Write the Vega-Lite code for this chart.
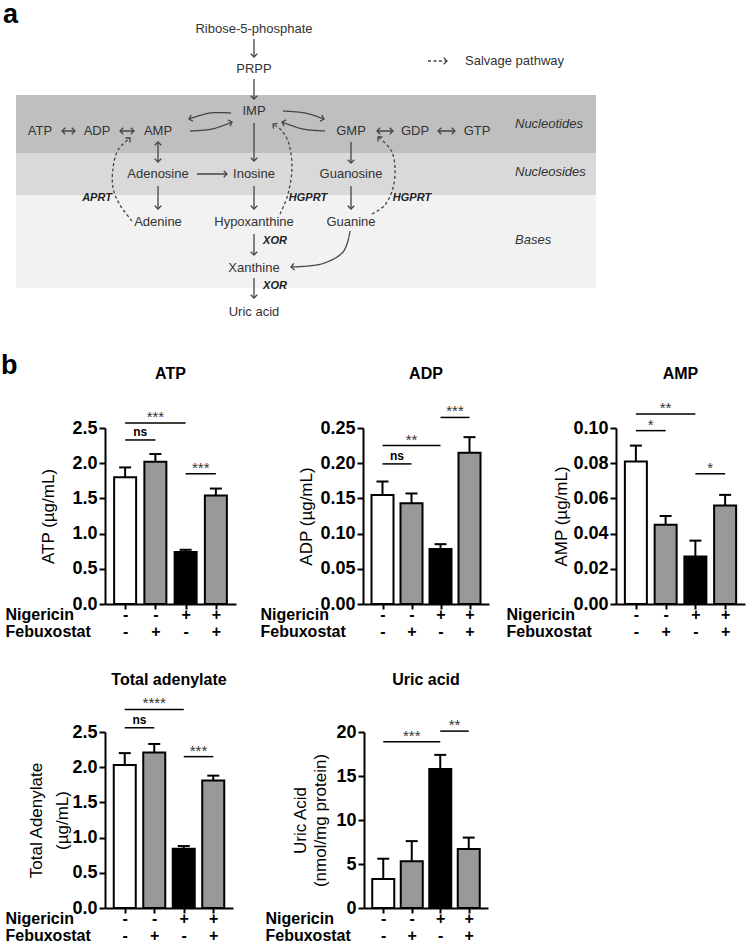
{
  "$schema": "https://vega.github.io/schema/vega-lite/v6.json",
  "background": "white",
  "padding": 0,
  "config": {
    "view": {"stroke": null},
    "font": "Liberation Sans",
    "axis": {"grid": false, "domainColor": "black", "domainWidth": 2, "tickColor": "black", "tickWidth": 2, "labelColor": "black", "labelFont": "Liberation Sans", "labelFontWeight": "bold", "titleFont": "Liberation Sans", "titleColor": "black", "labelOverlap": false},
    "axisY": {"labelFontSize": 18, "tickSize": 6, "labelPadding": 2, "titleFontSize": 17, "titleFontWeight": "normal", "titleAngle": -90, "titleBaseline": "middle", "titleAlign": "center", "labelOverlap": false},
    "axisX": {"tickSize": 5, "labelFontSize": 16, "labelPadding": 10, "labelBaseline": "alphabetic", "labelLineHeight": 17, "labelOverlap": false, "labelFlush": false, "labelAngle": 0, "titleFontSize": 16, "titleFontWeight": "bold", "titleAngle": 0, "titleAlign": "left", "titleAnchor": "start", "titleBaseline": "alphabetic", "titleLineHeight": 17}
  },
  "datasets": {
    "frame": [{"x": 0, "x2": 747, "y": 0, "y2": 299}],
    "zones": [
      {"x": 16, "x2": 596, "y": 94, "y2": 152, "zone": "Nucleotides"},
      {"x": 16, "x2": 596, "y": 152, "y2": 194, "zone": "Nucleosides"},
      {"x": 16, "x2": 596, "y": 194, "y2": 287, "zone": "Bases"}
    ],
    "shafts": [
      {"x": 254, "y": 38, "x2": 254, "y2": 56, "path": "main"},
      {"x": 254, "y": 78, "x2": 254, "y2": 98, "path": "main"},
      {"x": 254, "y": 122, "x2": 254, "y2": 160, "path": "main"},
      {"x": 254, "y": 185, "x2": 254, "y2": 208, "path": "main"},
      {"x": 254, "y": 233, "x2": 254, "y2": 254, "path": "main"},
      {"x": 254, "y": 277, "x2": 254, "y2": 297, "path": "main"},
      {"x": 158, "y": 141, "x2": 158, "y2": 161, "path": "main"},
      {"x": 158, "y": 185, "x2": 158, "y2": 208, "path": "main"},
      {"x": 197, "y": 173, "x2": 227, "y2": 173, "path": "main"},
      {"x": 351, "y": 141, "x2": 351, "y2": 162, "path": "main"},
      {"x": 351, "y": 185, "x2": 351, "y2": 208, "path": "main"},
      {"x": 62, "y": 130, "x2": 75, "y2": 130, "path": "main"},
      {"x": 120, "y": 130, "x2": 134, "y2": 130, "path": "main"},
      {"x": 377, "y": 130, "x2": 393, "y2": 130, "path": "main"},
      {"x": 438, "y": 130, "x2": 455, "y2": 130, "path": "main"},
      {"x": 428, "y": 60, "x2": 447, "y2": 60, "path": "salvage"}
    ],
    "curves": [
      {"id": "c1", "o": 1, "x": 231, "y": 112, "path": "main"},
      {"id": "c1", "o": 2, "x": 210, "y": 112, "path": "main"},
      {"id": "c1", "o": 3, "x": 189, "y": 118, "path": "main"},
      {"id": "c2", "o": 1, "x": 190, "y": 130, "path": "main"},
      {"id": "c2", "o": 2, "x": 212, "y": 128, "path": "main"},
      {"id": "c2", "o": 3, "x": 232, "y": 121, "path": "main"},
      {"id": "c3", "o": 1, "x": 283, "y": 110, "path": "main"},
      {"id": "c3", "o": 2, "x": 305, "y": 112, "path": "main"},
      {"id": "c3", "o": 3, "x": 324, "y": 118, "path": "main"},
      {"id": "c4", "o": 1, "x": 325, "y": 130, "path": "main"},
      {"id": "c4", "o": 2, "x": 303, "y": 128, "path": "main"},
      {"id": "c4", "o": 3, "x": 282, "y": 121, "path": "main"},
      {"id": "c5", "o": 1, "x": 350, "y": 230, "path": "main"},
      {"id": "c5", "o": 2, "x": 343, "y": 251, "path": "main"},
      {"id": "c5", "o": 3, "x": 321, "y": 263, "path": "main"},
      {"id": "c5", "o": 4, "x": 291, "y": 266, "path": "main"},
      {"id": "d1", "o": 1, "x": 132, "y": 220, "path": "salvage"},
      {"id": "d1", "o": 2, "x": 120, "y": 204, "path": "salvage"},
      {"id": "d1", "o": 3, "x": 113, "y": 187, "path": "salvage"},
      {"id": "d1", "o": 4, "x": 113, "y": 167, "path": "salvage"},
      {"id": "d1", "o": 5, "x": 118, "y": 149, "path": "salvage"},
      {"id": "d1", "o": 6, "x": 130, "y": 137, "path": "salvage"},
      {"id": "d2", "o": 1, "x": 280, "y": 213, "path": "salvage"},
      {"id": "d2", "o": 2, "x": 288, "y": 193, "path": "salvage"},
      {"id": "d2", "o": 3, "x": 292, "y": 167, "path": "salvage"},
      {"id": "d2", "o": 4, "x": 289, "y": 143, "path": "salvage"},
      {"id": "d2", "o": 5, "x": 282, "y": 130, "path": "salvage"},
      {"id": "d2", "o": 6, "x": 273, "y": 123, "path": "salvage"},
      {"id": "d3", "o": 1, "x": 372, "y": 213, "path": "salvage"},
      {"id": "d3", "o": 2, "x": 385, "y": 204, "path": "salvage"},
      {"id": "d3", "o": 3, "x": 393, "y": 187, "path": "salvage"},
      {"id": "d3", "o": 4, "x": 395, "y": 167, "path": "salvage"},
      {"id": "d3", "o": 5, "x": 391, "y": 149, "path": "salvage"},
      {"id": "d3", "o": 6, "x": 378, "y": 136, "path": "salvage"}
    ],
    "heads": [
      {"x": 254, "y": 56, "angle": 90}, {"x": 254, "y": 98, "angle": 90}, {"x": 254, "y": 160, "angle": 90},
      {"x": 254, "y": 208, "angle": 90}, {"x": 254, "y": 254, "angle": 90}, {"x": 254, "y": 297, "angle": 90},
      {"x": 158, "y": 141, "angle": 270}, {"x": 158, "y": 161, "angle": 90}, {"x": 158, "y": 208, "angle": 90},
      {"x": 227, "y": 173, "angle": 0}, {"x": 351, "y": 162, "angle": 90}, {"x": 351, "y": 208, "angle": 90},
      {"x": 62, "y": 130, "angle": 180}, {"x": 75, "y": 130, "angle": 0},
      {"x": 120, "y": 130, "angle": 180}, {"x": 134, "y": 130, "angle": 0},
      {"x": 377, "y": 130, "angle": 180}, {"x": 393, "y": 130, "angle": 0},
      {"x": 438, "y": 130, "angle": 180}, {"x": 455, "y": 130, "angle": 0},
      {"x": 447, "y": 60, "angle": 0},
      {"x": 189, "y": 118, "angle": 164}, {"x": 232, "y": 121, "angle": 341},
      {"x": 324, "y": 118, "angle": 17}, {"x": 282, "y": 121, "angle": 198},
      {"x": 291, "y": 266, "angle": 174},
      {"x": 130, "y": 137, "angle": 315}, {"x": 273, "y": 123, "angle": 218}, {"x": 378, "y": 136, "angle": 225}
    ],
    "nodes": [
      {"text": "Ribose-5-phosphate", "x": 254, "y": 28},
      {"text": "PRPP", "x": 254, "y": 68},
      {"text": "IMP", "x": 254, "y": 110},
      {"text": "ATP", "x": 40, "y": 130},
      {"text": "ADP", "x": 97, "y": 130},
      {"text": "AMP", "x": 158, "y": 130},
      {"text": "GMP", "x": 351, "y": 130},
      {"text": "GDP", "x": 415, "y": 130},
      {"text": "GTP", "x": 477, "y": 130},
      {"text": "Adenosine", "x": 158, "y": 173},
      {"text": "Inosine", "x": 254, "y": 173},
      {"text": "Guanosine", "x": 351, "y": 173},
      {"text": "Adenine", "x": 158, "y": 221},
      {"text": "Hypoxanthine", "x": 254, "y": 221},
      {"text": "Guanine", "x": 351, "y": 221},
      {"text": "Xanthine", "x": 254, "y": 267},
      {"text": "Uric acid", "x": 254, "y": 311}
    ],
    "zonelabels": [
      {"text": "Nucleotides", "x": 515, "y": 123},
      {"text": "Nucleosides", "x": 515, "y": 171},
      {"text": "Bases", "x": 515, "y": 239}
    ],
    "enzymes": [
      {"text": "APRT", "x": 97, "y": 197},
      {"text": "HGPRT", "x": 308, "y": 197},
      {"text": "HGPRT", "x": 412, "y": 197},
      {"text": "XOR", "x": 275, "y": 240},
      {"text": "XOR", "x": 275, "y": 285}
    ],
    "legendtext": [{"text": "Salvage pathway", "x": 465, "y": 60}],
    "letters": [{"text": "a", "x": 3, "y": 21.5}, {"text": "b", "x": 1, "y": 373}],
    "atp": [
      {"grp": 1, "cond": "Control", "mean": 1.80, "upper": 1.94},
      {"grp": 2, "cond": "Febuxostat", "mean": 2.02, "upper": 2.13},
      {"grp": 3, "cond": "Nigericin", "mean": 0.74, "upper": 0.77},
      {"grp": 4, "cond": "Nigericin + Febuxostat", "mean": 1.54, "upper": 1.64}
    ],
    "atp_sig": [
      {"x1": 1, "x2": 2, "xm": 1.5, "y": 2.33, "label": "ns"},
      {"x1": 1, "x2": 3, "xm": 2, "y": 2.57, "label": "***"},
      {"x1": 3, "x2": 4, "xm": 3.5, "y": 1.85, "label": "***"}
    ],
    "adp": [
      {"grp": 1, "cond": "Control", "mean": 0.155, "upper": 0.174},
      {"grp": 2, "cond": "Febuxostat", "mean": 0.143, "upper": 0.157},
      {"grp": 3, "cond": "Nigericin", "mean": 0.078, "upper": 0.085},
      {"grp": 4, "cond": "Nigericin + Febuxostat", "mean": 0.215, "upper": 0.237}
    ],
    "adp_sig": [
      {"x1": 1, "x2": 2, "xm": 1.5, "y": 0.199, "label": "ns"},
      {"x1": 1, "x2": 3, "xm": 2, "y": 0.225, "label": "**"},
      {"x1": 3, "x2": 4, "xm": 3.5, "y": 0.265, "label": "***"}
    ],
    "amp": [
      {"grp": 1, "cond": "Control", "mean": 0.081, "upper": 0.090},
      {"grp": 2, "cond": "Febuxostat", "mean": 0.045, "upper": 0.050},
      {"grp": 3, "cond": "Nigericin", "mean": 0.027, "upper": 0.036},
      {"grp": 4, "cond": "Nigericin + Febuxostat", "mean": 0.056, "upper": 0.062}
    ],
    "amp_sig": [
      {"x1": 1, "x2": 2, "xm": 1.5, "y": 0.0985, "label": "*"},
      {"x1": 1, "x2": 3, "xm": 2, "y": 0.108, "label": "**"},
      {"x1": 3, "x2": 4, "xm": 3.5, "y": 0.074, "label": "*"}
    ],
    "ta": [
      {"grp": 1, "cond": "Control", "mean": 2.03, "upper": 2.20},
      {"grp": 2, "cond": "Febuxostat", "mean": 2.21, "upper": 2.33},
      {"grp": 3, "cond": "Nigericin", "mean": 0.84, "upper": 0.88},
      {"grp": 4, "cond": "Nigericin + Febuxostat", "mean": 1.81, "upper": 1.88}
    ],
    "ta_sig": [
      {"x1": 1, "x2": 2, "xm": 1.5, "y": 2.56, "label": "ns"},
      {"x1": 1, "x2": 3, "xm": 2, "y": 2.82, "label": "****"},
      {"x1": 3, "x2": 4, "xm": 3.5, "y": 2.15, "label": "***"}
    ],
    "uric": [
      {"grp": 1, "cond": "Control", "mean": 3.3, "upper": 5.6},
      {"grp": 2, "cond": "Febuxostat", "mean": 5.3, "upper": 7.6},
      {"grp": 3, "cond": "Nigericin", "mean": 15.8, "upper": 17.4},
      {"grp": 4, "cond": "Nigericin + Febuxostat", "mean": 6.7, "upper": 8.0}
    ],
    "uric_sig": [
      {"x1": 1, "x2": 3, "xm": 2, "y": 18.9, "label": "***"},
      {"x1": 3, "x2": 4, "xm": 3.5, "y": 20.1, "label": "**"}
    ]
  },
  "bounds": "flush",
  "spacing": 304,
  "resolve": {"scale": {"fill": "independent", "strokeDash": "independent"}},
  "vconcat": [
    {
      "width": 642,
      "height": 123,
      "encoding": {
        "x": {"field": "x", "type": "quantitative", "scale": {"domain": [105, 747], "nice": false, "zero": false}, "axis": null},
        "y": {"field": "y", "type": "quantitative", "scale": {"domain": [0, 123], "nice": false, "zero": false, "reverse": true}, "axis": null}
      },
      "layer": [
        {"data": {"name": "frame"}, "mark": {"type": "rect", "fill": "white"}, "encoding": {"x2": {"field": "x2"}, "y2": {"field": "y2"}}},
        {"data": {"name": "zones"}, "mark": {"type": "rect"}, "encoding": {"x2": {"field": "x2"}, "y2": {"field": "y2"}, "fill": {"field": "zone", "type": "nominal", "scale": {"domain": ["Nucleotides", "Nucleosides", "Bases"], "range": ["#bfbfbf", "#d9d9d9", "#f2f2f2"]}, "legend": null}}},
        {"data": {"name": "shafts"}, "mark": {"type": "rule", "color": "#444444", "strokeWidth": 1.3}, "encoding": {"x2": {"field": "x2"}, "y2": {"field": "y2"}, "strokeDash": {"field": "path", "type": "nominal", "scale": {"domain": ["main", "salvage"], "range": [[1, 0], [3, 2.5]]}, "legend": null}}},
        {"data": {"name": "curves"}, "mark": {"type": "line", "color": "#444444", "strokeWidth": 1.3, "interpolate": "cardinal"}, "encoding": {"detail": {"field": "id"}, "order": {"field": "o", "type": "quantitative"}, "strokeDash": {"field": "path", "type": "nominal", "scale": {"domain": ["main", "salvage"], "range": [[1, 0], [3, 2.5]]}, "legend": null}}},
        {"data": {"name": "heads"}, "mark": {"type": "point", "shape": "M-1,-1L0,0L-1,1", "filled": false, "size": 42, "strokeWidth": 1.3, "color": "#444444", "opacity": 1}, "encoding": {"angle": {"field": "angle", "type": "quantitative", "scale": null}}},
        {"data": {"name": "nodes"}, "mark": {"type": "text", "fontSize": 13, "color": "#333333", "baseline": "middle", "align": "center", "font": "Liberation Sans"}, "encoding": {"text": {"field": "text"}}},
        {"data": {"name": "zonelabels"}, "mark": {"type": "text", "fontSize": 13, "fontStyle": "italic", "color": "#333333", "baseline": "middle", "align": "left", "font": "Liberation Sans"}, "encoding": {"text": {"field": "text"}}},
        {"data": {"name": "legendtext"}, "mark": {"type": "text", "fontSize": 13, "color": "#333333", "baseline": "middle", "align": "left", "font": "Liberation Sans"}, "encoding": {"text": {"field": "text"}}},
        {"data": {"name": "enzymes"}, "mark": {"type": "text", "fontSize": 11, "fontStyle": "italic", "fontWeight": "bold", "color": "#222222", "baseline": "middle", "align": "center", "font": "Liberation Sans"}, "encoding": {"text": {"field": "text"}}},
        {"data": {"name": "letters"}, "mark": {"type": "text", "fontSize": 27, "fontWeight": "bold", "color": "black", "baseline": "alphabetic", "align": "left", "font": "Liberation Sans"}, "encoding": {"text": {"field": "text"}}}
      ]
    },
    {
      "bounds": "flush",
      "spacing": 127,
      "hconcat": [
        {
          "width": 131, "height": 176,
          "title": {"text": "ATP", "offset": 15, "baseline": "alphabetic", "fontSize": 16, "fontWeight": "bold", "color": "black", "anchor": "middle", "frame": "group", "font": "Liberation Sans"},
          "layer": [
            {"data": {"name": "atp"}, "mark": {"type": "bar", "width": 22, "stroke": "black", "strokeWidth": 2},
             "encoding": {
               "x": {"field": "grp", "type": "quantitative", "scale": {"domain": [0.5, 4.5], "nice": false, "zero": false},
                     "axis": {"values": [1, 2, 3, 4], "tickCount": 10, "labelExpr": "datum.value == 1 ? ['-','-'] : datum.value == 2 ? ['-','+'] : datum.value == 3 ? ['+','-'] : ['+','+']", "title": ["Nigericin", "Febuxostat"], "titleX": -100, "titleY": 15, "labelOverlap": false}},
               "y": {"field": "mean", "type": "quantitative", "scale": {"domain": [0, 2.5], "nice": false},
                     "axis": {"values": [0, 0.5, 1, 1.5, 2, 2.5], "tickCount": 12, "format": ".1f", "title": "ATP (µg/mL)", "titleX": -57, "titleY": 88, "labelOverlap": false}},
               "fill": {"field": "cond", "type": "nominal", "scale": {"domain": ["Control", "Febuxostat", "Nigericin", "Nigericin + Febuxostat"], "range": ["white", "#999999", "black", "#999999"]}, "legend": null}
             }},
            {"data": {"name": "atp"}, "mark": {"type": "rule", "color": "black", "strokeWidth": 2}, "encoding": {"x": {"field": "grp", "type": "quantitative"}, "y": {"field": "mean", "type": "quantitative"}, "y2": {"field": "upper"}}},
            {"data": {"name": "atp"}, "mark": {"type": "tick", "orient": "horizontal", "size": 12, "thickness": 2, "color": "black", "opacity": 1}, "encoding": {"x": {"field": "grp", "type": "quantitative"}, "y": {"field": "upper", "type": "quantitative"}}},
            {"data": {"name": "atp_sig"}, "mark": {"type": "rule", "color": "black", "strokeWidth": 1.5}, "encoding": {"x": {"field": "x1", "type": "quantitative"}, "x2": {"field": "x2"}, "y": {"field": "y", "type": "quantitative"}}},
            {"data": {"name": "atp_sig"}, "transform": [{"filter": "datum.label == 'ns'"}], "mark": {"type": "text", "fontSize": 12, "fontWeight": "bold", "baseline": "alphabetic", "dy": -4, "color": "black"}, "encoding": {"x": {"field": "xm", "type": "quantitative"}, "y": {"field": "y", "type": "quantitative"}, "text": {"field": "label"}}},
            {"data": {"name": "atp_sig"}, "transform": [{"filter": "datum.label != 'ns'"}], "mark": {"type": "text", "fontSize": 15, "baseline": "alphabetic", "dy": -1, "color": "#333333"}, "encoding": {"x": {"field": "xm", "type": "quantitative"}, "y": {"field": "y", "type": "quantitative"}, "text": {"field": "label"}}}
          ]
        },
        {
          "width": 126, "height": 176,
          "title": {"text": "ADP", "offset": 9, "baseline": "alphabetic", "fontSize": 16, "fontWeight": "bold", "color": "black", "anchor": "middle", "frame": "group", "font": "Liberation Sans"},
          "layer": [
            {"data": {"name": "adp"}, "mark": {"type": "bar", "width": 22, "stroke": "black", "strokeWidth": 2},
             "encoding": {
               "x": {"field": "grp", "type": "quantitative", "scale": {"domain": [0.5, 4.5], "nice": false, "zero": false},
                     "axis": {"values": [1, 2, 3, 4], "tickCount": 10, "labelExpr": "datum.value == 1 ? ['-','-'] : datum.value == 2 ? ['-','+'] : datum.value == 3 ? ['+','-'] : ['+','+']", "title": ["Nigericin", "Febuxostat"], "titleX": -103, "titleY": 15, "labelOverlap": false}},
               "y": {"field": "mean", "type": "quantitative", "scale": {"domain": [0, 0.25], "nice": false},
                     "axis": {"values": [0, 0.05, 0.1, 0.15, 0.2, 0.25], "tickCount": 12, "format": ".2f", "title": "ADP (µg/mL)", "titleX": -57, "titleY": 88, "labelOverlap": false}},
               "fill": {"field": "cond", "type": "nominal", "scale": {"domain": ["Control", "Febuxostat", "Nigericin", "Nigericin + Febuxostat"], "range": ["white", "#999999", "black", "#999999"]}, "legend": null}
             }},
            {"data": {"name": "adp"}, "mark": {"type": "rule", "color": "black", "strokeWidth": 2}, "encoding": {"x": {"field": "grp", "type": "quantitative"}, "y": {"field": "mean", "type": "quantitative"}, "y2": {"field": "upper"}}},
            {"data": {"name": "adp"}, "mark": {"type": "tick", "orient": "horizontal", "size": 12, "thickness": 2, "color": "black", "opacity": 1}, "encoding": {"x": {"field": "grp", "type": "quantitative"}, "y": {"field": "upper", "type": "quantitative"}}},
            {"data": {"name": "adp_sig"}, "mark": {"type": "rule", "color": "black", "strokeWidth": 1.5}, "encoding": {"x": {"field": "x1", "type": "quantitative"}, "x2": {"field": "x2"}, "y": {"field": "y", "type": "quantitative"}}},
            {"data": {"name": "adp_sig"}, "transform": [{"filter": "datum.label == 'ns'"}], "mark": {"type": "text", "fontSize": 12, "fontWeight": "bold", "baseline": "alphabetic", "dy": -4, "color": "black"}, "encoding": {"x": {"field": "xm", "type": "quantitative"}, "y": {"field": "y", "type": "quantitative"}, "text": {"field": "label"}}},
            {"data": {"name": "adp_sig"}, "transform": [{"filter": "datum.label != 'ns'"}], "mark": {"type": "text", "fontSize": 15, "baseline": "alphabetic", "dy": -1, "color": "#333333"}, "encoding": {"x": {"field": "xm", "type": "quantitative"}, "y": {"field": "y", "type": "quantitative"}, "text": {"field": "label"}}}
          ]
        },
        {
          "width": 129, "height": 176,
          "title": {"text": "AMP", "offset": 6, "baseline": "alphabetic", "fontSize": 16, "fontWeight": "bold", "color": "black", "anchor": "middle", "frame": "group", "font": "Liberation Sans"},
          "layer": [
            {"data": {"name": "amp"}, "mark": {"type": "bar", "width": 22, "stroke": "black", "strokeWidth": 2},
             "encoding": {
               "x": {"field": "grp", "type": "quantitative", "scale": {"domain": [0.5, 4.5], "nice": false, "zero": false},
                     "axis": {"values": [1, 2, 3, 4], "tickCount": 10, "labelExpr": "datum.value == 1 ? ['-','-'] : datum.value == 2 ? ['-','+'] : datum.value == 3 ? ['+','-'] : ['+','+']", "title": ["Nigericin", "Febuxostat"], "titleX": -110, "titleY": 15, "labelOverlap": false}},
               "y": {"field": "mean", "type": "quantitative", "scale": {"domain": [0, 0.1], "nice": false},
                     "axis": {"values": [0, 0.02, 0.04, 0.06, 0.08, 0.1], "tickCount": 12, "format": ".2f", "title": "AMP (µg/mL)", "titleX": -55, "titleY": 88, "labelOverlap": false}},
               "fill": {"field": "cond", "type": "nominal", "scale": {"domain": ["Control", "Febuxostat", "Nigericin", "Nigericin + Febuxostat"], "range": ["white", "#999999", "black", "#999999"]}, "legend": null}
             }},
            {"data": {"name": "amp"}, "mark": {"type": "rule", "color": "black", "strokeWidth": 2}, "encoding": {"x": {"field": "grp", "type": "quantitative"}, "y": {"field": "mean", "type": "quantitative"}, "y2": {"field": "upper"}}},
            {"data": {"name": "amp"}, "mark": {"type": "tick", "orient": "horizontal", "size": 12, "thickness": 2, "color": "black", "opacity": 1}, "encoding": {"x": {"field": "grp", "type": "quantitative"}, "y": {"field": "upper", "type": "quantitative"}}},
            {"data": {"name": "amp_sig"}, "mark": {"type": "rule", "color": "black", "strokeWidth": 1.5}, "encoding": {"x": {"field": "x1", "type": "quantitative"}, "x2": {"field": "x2"}, "y": {"field": "y", "type": "quantitative"}}},
            {"data": {"name": "amp_sig"}, "mark": {"type": "text", "fontSize": 15, "baseline": "alphabetic", "dy": -1, "color": "#333333"}, "encoding": {"x": {"field": "xm", "type": "quantitative"}, "y": {"field": "y", "type": "quantitative"}, "text": {"field": "label"}}}
          ]
        }
      ]
    },
    {
      "bounds": "flush",
      "spacing": 131,
      "hconcat": [
        {
          "width": 128, "height": 176,
          "title": {"text": "Total adenylate", "offset": -5, "baseline": "alphabetic", "fontSize": 16, "fontWeight": "bold", "color": "black", "anchor": "middle", "frame": "group", "font": "Liberation Sans"},
          "layer": [
            {"data": {"name": "ta"}, "mark": {"type": "bar", "width": 22, "stroke": "black", "strokeWidth": 2},
             "encoding": {
               "x": {"field": "grp", "type": "quantitative", "scale": {"domain": [0.5, 4.5], "nice": false, "zero": false},
                     "axis": {"values": [1, 2, 3, 4], "tickCount": 10, "labelExpr": "datum.value == 1 ? ['-','-'] : datum.value == 2 ? ['-','+'] : datum.value == 3 ? ['+','-'] : ['+','+']", "title": ["Nigericin", "Febuxostat"], "titleX": -100, "titleY": 15, "labelOverlap": false}},
               "y": {"field": "mean", "type": "quantitative", "scale": {"domain": [0, 2.5], "nice": false},
                     "axis": {"values": [0, 0.5, 1, 1.5, 2, 2.5], "tickCount": 12, "format": ".1f", "title": ["Total Adenylate", "(µg/mL)"], "titleLineHeight": 26, "titleX": -69, "titleY": 88, "labelOverlap": false}},
               "fill": {"field": "cond", "type": "nominal", "scale": {"domain": ["Control", "Febuxostat", "Nigericin", "Nigericin + Febuxostat"], "range": ["white", "#999999", "black", "#999999"]}, "legend": null}
             }},
            {"data": {"name": "ta"}, "mark": {"type": "rule", "color": "black", "strokeWidth": 2}, "encoding": {"x": {"field": "grp", "type": "quantitative"}, "y": {"field": "mean", "type": "quantitative"}, "y2": {"field": "upper"}}},
            {"data": {"name": "ta"}, "mark": {"type": "tick", "orient": "horizontal", "size": 12, "thickness": 2, "color": "black", "opacity": 1}, "encoding": {"x": {"field": "grp", "type": "quantitative"}, "y": {"field": "upper", "type": "quantitative"}}},
            {"data": {"name": "ta_sig"}, "mark": {"type": "rule", "color": "black", "strokeWidth": 1.5}, "encoding": {"x": {"field": "x1", "type": "quantitative"}, "x2": {"field": "x2"}, "y": {"field": "y", "type": "quantitative"}}},
            {"data": {"name": "ta_sig"}, "transform": [{"filter": "datum.label == 'ns'"}], "mark": {"type": "text", "fontSize": 12, "fontWeight": "bold", "baseline": "alphabetic", "dy": -4, "color": "black"}, "encoding": {"x": {"field": "xm", "type": "quantitative"}, "y": {"field": "y", "type": "quantitative"}, "text": {"field": "label"}}},
            {"data": {"name": "ta_sig"}, "transform": [{"filter": "datum.label != 'ns'"}], "mark": {"type": "text", "fontSize": 15, "baseline": "alphabetic", "dy": -1, "color": "#333333"}, "encoding": {"x": {"field": "xm", "type": "quantitative"}, "y": {"field": "y", "type": "quantitative"}, "text": {"field": "label"}}}
          ]
        },
        {
          "width": 124, "height": 176,
          "title": {"text": "Uric acid", "offset": 17, "baseline": "alphabetic", "fontSize": 16, "fontWeight": "bold", "color": "black", "anchor": "middle", "frame": "group", "font": "Liberation Sans"},
          "layer": [
            {"data": {"name": "uric"}, "mark": {"type": "bar", "width": 22, "stroke": "black", "strokeWidth": 2},
             "encoding": {
               "x": {"field": "grp", "type": "quantitative", "scale": {"domain": [0.5, 4.5], "nice": false, "zero": false},
                     "axis": {"values": [1, 2, 3, 4], "tickCount": 10, "labelExpr": "datum.value == 1 ? ['-','-'] : datum.value == 2 ? ['-','+'] : datum.value == 3 ? ['+','-'] : ['+','+']", "title": ["Nigericin", "Febuxostat"], "titleX": -99, "titleY": 15, "labelOverlap": false}},
               "y": {"field": "mean", "type": "quantitative", "scale": {"domain": [0, 20], "nice": false},
                     "axis": {"values": [0, 5, 10, 15, 20], "tickCount": 12, "format": "d", "title": ["Uric Acid", "(nmol/mg protein)"], "titleLineHeight": 20, "titleX": -64, "titleY": 88, "labelOverlap": false}},
               "fill": {"field": "cond", "type": "nominal", "scale": {"domain": ["Control", "Febuxostat", "Nigericin", "Nigericin + Febuxostat"], "range": ["white", "#999999", "black", "#999999"]}, "legend": null}
             }},
            {"data": {"name": "uric"}, "mark": {"type": "rule", "color": "black", "strokeWidth": 2}, "encoding": {"x": {"field": "grp", "type": "quantitative"}, "y": {"field": "mean", "type": "quantitative"}, "y2": {"field": "upper"}}},
            {"data": {"name": "uric"}, "mark": {"type": "tick", "orient": "horizontal", "size": 12, "thickness": 2, "color": "black", "opacity": 1}, "encoding": {"x": {"field": "grp", "type": "quantitative"}, "y": {"field": "upper", "type": "quantitative"}}},
            {"data": {"name": "uric_sig"}, "mark": {"type": "rule", "color": "black", "strokeWidth": 1.5}, "encoding": {"x": {"field": "x1", "type": "quantitative"}, "x2": {"field": "x2"}, "y": {"field": "y", "type": "quantitative"}}},
            {"data": {"name": "uric_sig"}, "mark": {"type": "text", "fontSize": 15, "baseline": "alphabetic", "dy": -1, "color": "#333333"}, "encoding": {"x": {"field": "xm", "type": "quantitative"}, "y": {"field": "y", "type": "quantitative"}, "text": {"field": "label"}}}
          ]
        }
      ]
    }
  ]
}
